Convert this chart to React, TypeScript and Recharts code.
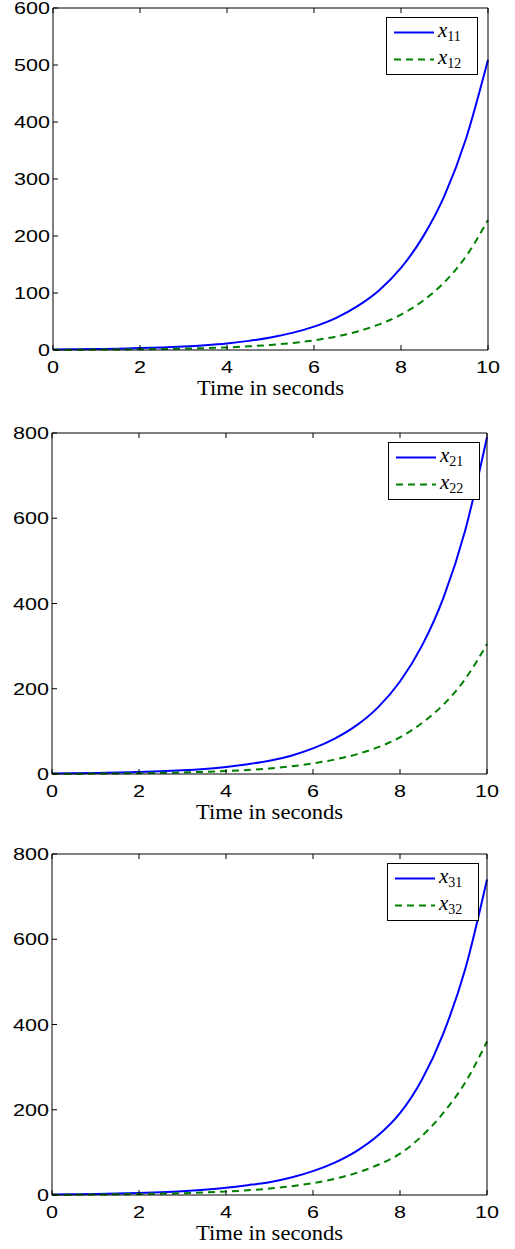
import { LineChart, Line, XAxis, YAxis, Legend } from "recharts";

// sample times (s)
const time = [0, 0.5, 1, 1.5, 2, 2.5, 3, 3.5, 4, 4.5, 5, 5.5, 6, 6.5, 7, 7.5, 8, 8.5, 9, 9.5, 10];

// values, t = 0 .. 10
const x11 = [0.9, 1.3, 1.8, 2.4, 3.3, 4.5, 6.2, 8.5, 11.6, 16, 22, 30, 41, 56, 77, 105, 144, 198, 271, 372, 509];
const x12 = [0.35, 0.5, 0.7, 0.9, 1.3, 1.8, 2.4, 3.3, 4.6, 6.4, 8.9, 12.3, 17, 23.5, 32.5, 45, 62, 86, 119, 165, 228];
const x21 = [1.25, 1.7, 2.4, 3.3, 4.5, 6.3, 8.7, 12, 16.5, 23, 31, 43, 60, 83, 114, 157, 217, 300, 414, 572, 790];
const x22 = [0.6, 0.8, 1, 1.4, 2, 2.7, 3.7, 5, 7, 9.5, 13, 18, 25, 34, 46, 63, 86, 119, 163, 223, 305];
const x31 = [1.3, 1.8, 2.5, 3.5, 4.8, 6.6, 9, 12.5, 17, 23, 30, 41, 56, 76, 103, 140, 192, 270, 380, 530, 740];
const x32 = [0.7, 0.9, 1.2, 1.7, 2.3, 3.2, 4.3, 5.9, 8, 11, 15, 20.5, 28, 38, 52, 71, 97, 138, 193, 264, 360];

const xTicks = [0, 2, 4, 6, 8, 10];
const yTicksTop = [0, 100, 200, 300, 400, 500, 600];
const yTicksLow = [0, 200, 400, 600, 800];

const names1 = ["x11", "x12"];
const names2 = ["x21", "x22"];
const names3 = ["x31", "x32"];

const BLUE = "#0000ff";
const GREEN = "#008000";
const NUM_FONT = "'Liberation Sans', Arial, Helvetica, sans-serif";
const TEX_FONT = "'Liberation Serif', 'Times New Roman', serif";

const numText = (x: number, y: number, s: string, anchor: "start" | "middle" | "end") => (
  <text
    x={x}
    y={y}
    textAnchor={anchor}
    fontFamily={NUM_FONT}
    fontSize={17}
    textLength={s.length * 12}
    lengthAdjust="spacingAndGlyphs"
    fill="#000"
  >
    {s}
  </text>
);

const BottomTick = (p: any) => (
  <g>
    <line x1={p.x} y1={p.y} x2={p.x} y2={p.y - 5} stroke="#000" />
    {numText(p.x, p.y + 23, String(p.payload.value), "middle")}
  </g>
);
const TopTick = (p: any) => <line x1={p.x} y1={p.y} x2={p.x} y2={p.y + 5} stroke="#000" />;
const LeftTick = (p: any) => (
  <g>
    <line x1={p.x} y1={p.y} x2={p.x + 5} y2={p.y} stroke="#000" />
    {numText(p.x - 3, p.y + 6, String(p.payload.value), "end")}
  </g>
);
const RightTick = (p: any) => <line x1={p.x} y1={p.y} x2={p.x - 5} y2={p.y} stroke="#000" />;

const TitleLabel = (p: any) => {
  const vb = p.viewBox || {};
  return (
    <text
      x={vb.x + vb.width / 2}
      y={vb.y + 45}
      textAnchor="middle"
      fontFamily={TEX_FONT}
      fontSize={21}
      textLength={147}
      lengthAdjust="spacingAndGlyphs"
      fill="#000"
    >
      Time in seconds
    </text>
  );
};

const LegendBox = ({ payload }: any) => (
  <svg width={92} height={58} style={{ display: "block" }}>
    <rect x={0.5} y={0.5} width={91} height={57} fill="#fff" stroke="#000" />
    {(payload || []).map((e: any, i: number) => {
      const y = 15.5 + i * 27;
      return (
        <g key={e.value}>
          <line
            x1={8}
            x2={48}
            y1={y}
            y2={y}
            stroke={e.color}
            strokeWidth={2}
            strokeDasharray={e.payload?.strokeDasharray}
          />
          <text x={52} y={y + 4} fontFamily={TEX_FONT} fontSize={21} fill="#000">
            <tspan fontStyle="italic">{e.value.slice(0, 1)}</tspan>
            <tspan fontSize={14} dy={4}>
              {e.value.slice(1)}
            </tspan>
          </text>
        </g>
      );
    })}
  </svg>
);

function Panel({
  top,
  a,
  b,
  names,
  yMax,
  yTicks,
  marginTop,
  marginRight,
  yWidth,
  legendLeft,
  legendTop,
}: {
  top: number;
  a: number[];
  b: number[];
  names: string[];
  yMax: number;
  yTicks: number[];
  marginTop: number;
  marginRight: number;
  yWidth: number;
  legendLeft: number;
  legendTop: number;
}) {
  const data = time.map((t, i) => ({ t, a: a[i], b: b[i] }));
  return (
    <div style={{ position: "absolute", left: 0, top }}>
      <LineChart
        width={515}
        height={400}
        data={data}
        margin={{ top: marginTop - 1, right: marginRight - 1, bottom: 0, left: 0 }}
      >
        <XAxis
          dataKey="t"
          type="number"
          domain={[0, 10]}
          ticks={xTicks}
          interval={0}
          height={50}
          tickSize={0}
          tickMargin={0}
          tickLine={false}
          tick={BottomTick}
          axisLine={{ stroke: "#000" }}
          label={{ content: TitleLabel }}
        />
        <XAxis
          xAxisId="top"
          orientation="top"
          dataKey="t"
          type="number"
          domain={[0, 10]}
          ticks={xTicks}
          interval={0}
          height={1}
          tickSize={0}
          tickMargin={0}
          tickLine={false}
          tick={TopTick}
          axisLine={{ stroke: "#000" }}
        />
        <YAxis
          type="number"
          domain={[0, yMax]}
          ticks={yTicks}
          interval={0}
          width={yWidth}
          tickSize={0}
          tickMargin={0}
          tickLine={false}
          tick={LeftTick}
          axisLine={{ stroke: "#000" }}
        />
        <YAxis
          yAxisId="right"
          orientation="right"
          type="number"
          domain={[0, yMax]}
          ticks={yTicks}
          interval={0}
          width={1}
          tickSize={0}
          tickMargin={0}
          tickLine={false}
          tick={RightTick}
          axisLine={{ stroke: "#000" }}
        />
        <Legend
          layout="vertical"
          align="center"
          verticalAlign="middle"
          content={LegendBox}
          wrapperStyle={{ left: legendLeft, top: legendTop, width: 92, height: 58 }}
        />
        <Line
          name={names[0]}
          dataKey="a"
          type="monotone"
          stroke={BLUE}
          strokeWidth={2}
          dot={false}
          isAnimationActive={false}
        />
        <Line
          name={names[1]}
          dataKey="b"
          type="monotone"
          stroke={GREEN}
          strokeWidth={2}
          strokeDasharray="7 5"
          dot={false}
          isAnimationActive={false}
        />
      </LineChart>
    </div>
  );
}

export default function App() {
  return (
    <div
      style={{
        position: "absolute",
        left: 0,
        top: 0,
        width: 515,
        height: 1249,
        background: "#fff",
      }}
    >
      <Panel top={0} a={x11} b={x12} names={names1} yMax={600} yTicks={yTicksTop}
        marginTop={8} marginRight={27} yWidth={53} legendLeft={386} legendTop={17} />
      <Panel top={424} a={x21} b={x22} names={names2} yMax={800} yTicks={yTicksLow}
        marginTop={9} marginRight={28} yWidth={52} legendLeft={388} legendTop={18} />
      <Panel top={845} a={x31} b={x32} names={names3} yMax={800} yTicks={yTicksLow}
        marginTop={9} marginRight={28} yWidth={52} legendLeft={387} legendTop={18} />
    </div>
  );
}
